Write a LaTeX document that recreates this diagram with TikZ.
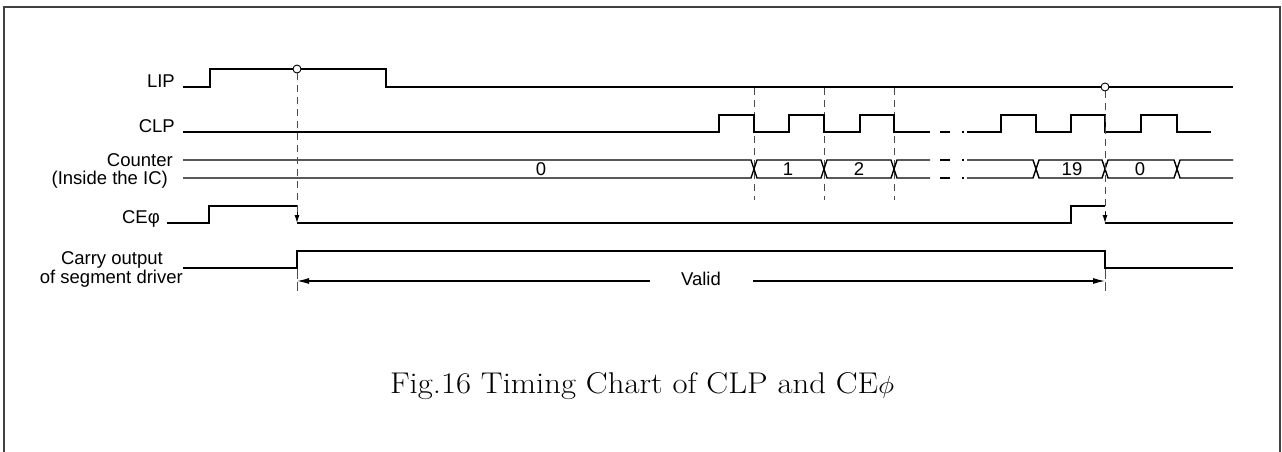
\documentclass[tikz,border=0pt]{standalone}
\usepackage{fontspec}
\usepackage{graphicx}
\newfontfamily\lab{Liberation Sans}
\usetikzlibrary{arrows.meta}
\begin{document}
\begin{tikzpicture}[x=1pt,y=-1pt,
  sig/.style={line width=1.6pt, line join=miter, line cap=butt},
  bus/.style={line width=1.4pt, line join=miter},
  dsh/.style={line width=1pt, draw=black!70, dash pattern=on 7pt off 5pt},
  lbl/.style={font=\lab\fontsize{18.5}{21}\selectfont, inner sep=0pt, anchor=base east},
  val/.style={font=\lab\fontsize{18.5}{21}\selectfont, inner sep=0pt, anchor=center},
  mark0/.style={circle, draw, line width=0.9pt, fill=white, minimum size=8pt, inner sep=0pt},
  tipS/.style={-{Latex[length=8pt,width=5pt]}, line width=1pt},
  tipV/.style={line width=1.1pt}
]
\useasboundingbox (0,0) rectangle (1282,452);
% frame
\draw[line width=2pt, black!75] (4,452) -- (4,7) -- (1280,7) -- (1280,452);

% dashed guide lines
\coordinate (g1t) at (754,88);  \coordinate (g1b) at (754,200);
\coordinate (g2t) at (824,88);  \coordinate (g2b) at (824,200);
\coordinate (g3t) at (894,88);  \coordinate (g3b) at (894,200);
\draw[dsh] (g1t) -- (g1b);
\draw[dsh] (g2t) -- (g2b);
\draw[dsh] (g3t) -- (g3b);

% labels
\node[lbl] (lip) at (175,87) {LIP};
\node[lbl] (clp) at (175,132) {CLP};
\node[lbl] (cnt) at (173,166) {Counter};
\node[lbl] (ins) at (168,184) {(Inside the IC)};
\node[lbl] (ce) at (160,223) {CEφ};
\node[lbl] (car) at (163,264) {Carry output};
\node[lbl] (seg) at (183,283) {of segment driver};

% LIP
\draw[sig] (183,87) -- (210,87) -- (210,69) -- (386,69) -- (386,87) -- (1233,87);

% CLP
\draw[sig] (183,132) -- (719,132) -- (719,115) -- (754,115) -- (754,132) -- (789,132) -- (789,115) -- (824,115) -- (824,132) -- (860,132) -- (860,115) -- (894,115) -- (894,132) -- (930,132);
\draw[sig] (940,132) -- (950,132) (962,132) -- (964,132);
\draw[sig] (967,132) -- (1001,132) -- (1001,115) -- (1036,115) -- (1036,132) -- (1071,132) -- (1071,115) -- (1105,115) -- (1105,132) -- (1141,132) -- (1141,115) -- (1177,115) -- (1177,132) -- (1211,132);

% Counter bus
\draw[bus] (183,160) -- (751,160) -- (757,178) -- (821,178) -- (827,160) -- (891,160) -- (897,178) -- (930,178);
\draw[bus] (183,178) -- (751,178) -- (757,160) -- (821,160) -- (827,178) -- (891,178) -- (897,160) -- (930,160);
\draw[bus] (940,160) -- (950,160) (962,160) -- (964,160) (940,178) -- (950,178) (962,178) -- (964,178);
\draw[bus] (967,160) -- (1033,160) -- (1039,178) -- (1102,178) -- (1108,160) -- (1174,160) -- (1180,178) -- (1233,178);
\draw[bus] (967,178) -- (1033,178) -- (1039,160) -- (1102,160) -- (1108,178) -- (1174,178) -- (1180,160) -- (1233,160);
\node[val] (v0) at (541,169) {0};
\node[val] (v1) at (788,169) {1};
\node[val] (v2) at (859,169) {2};
\node[val] (v19) at (1072,169) {19};
\node[val] (v0b) at (1140,169) {0};

% CE
\draw[sig] (167,223) -- (209,223) -- (209,206) -- (297,206);
\draw[sig] (297,223) -- (1071,223) -- (1071,206) -- (1105,206);
\draw[sig] (1105,223) -- (1233,223);

% Carry
\draw[sig] (183,268) -- (297,268) -- (297,251) -- (1105,251) -- (1105,268) -- (1233,268);

% markers and dashed verticals with arrows
\node[mark0] (m1) at (297,69) {};
\node[mark0] (m2) at (1105,87) {};
\coordinate (a1) at (297,223);
\coordinate (a2) at (1105,223);
\coordinate (a1s) at (297,212);
\coordinate (a2s) at (1105,212);
\draw[dsh] (m1.south) -- (a1s);
\draw[dsh] (m2.south) -- (a2s);
\draw[tipS] (a1s) -- (a1);
\draw[tipS] (a2s) -- (a2);

% valid ticks
\coordinate (k1t) at (297,269); \coordinate (k1b) at (297,291);
\coordinate (k2t) at (1105,269); \coordinate (k2b) at (1105,291);
\draw[line width=1pt, draw=black!70, dash pattern=on 10pt off 3pt] (k1t) -- (k1b);
\draw[line width=1pt, draw=black!70, dash pattern=on 10pt off 3pt] (k2t) -- (k2b);

% valid arrow
\node[val] (valid) at (701,279) {Valid};
\coordinate (w1) at (297,281);
\coordinate (w2) at (1105,281);
\draw[tipV, {Latex[length=12pt,width=6pt]}-] (w1) -- (650,281);
\draw[tipV, -{Latex[length=12pt,width=6pt]}] (753,281) -- (w2);

% caption
\node[font=\fontsize{30}{32}\selectfont, anchor=base, inner sep=0pt] (cap) at (642,393) {\scalebox{1.09}[1]{Fig.16 Timing Chart of CLP and CE$\phi$}};
\end{tikzpicture}
\end{document}
